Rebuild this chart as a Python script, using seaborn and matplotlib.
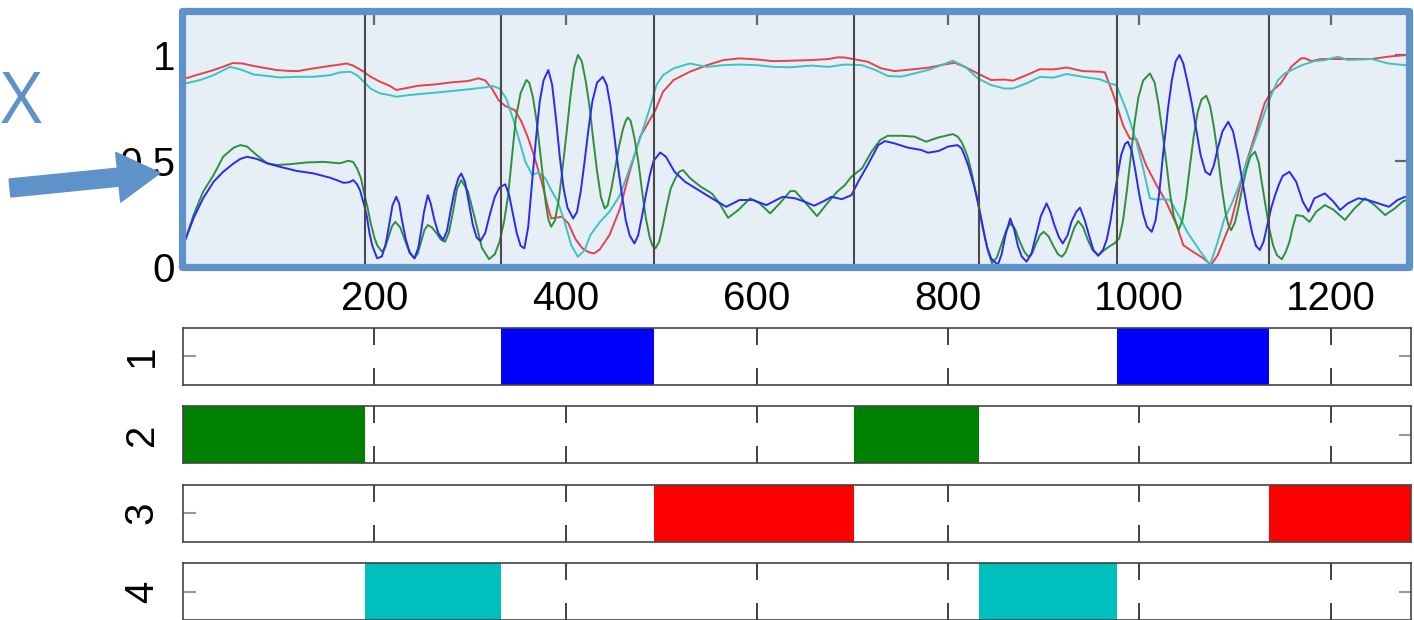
import numpy as np
import pandas as pd
import matplotlib
matplotlib.use("Agg")
import matplotlib.pyplot as plt
from matplotlib.patches import Rectangle, FancyArrow
import seaborn as sns

# ---------------------------------------------------------------- data
# each trace is a list of (position, value) samples
red_pts = [
    (0, 0.885), (10, 0.900), (20, 0.913), (32, 0.929), (42, 0.945), (52, 0.962), (62, 0.960),
    (72, 0.950), (84, 0.940), (98, 0.929), (110, 0.925), (120, 0.924), (130, 0.932), (147, 0.944),
    (164, 0.955), (171, 0.960), (178, 0.950), (189, 0.921), (196, 0.898), (206, 0.874),
    (216, 0.855), (223, 0.835), (236, 0.846), (246, 0.855), (263, 0.861), (281, 0.871),
    (298, 0.877), (309, 0.890), (316, 0.880), (323, 0.842), (330, 0.787), (337, 0.759),
    (347, 0.740), (354, 0.685), (361, 0.607), (368, 0.512), (375, 0.402), (382, 0.276),
    (385, 0.229), (396, 0.237), (403, 0.206), (410, 0.135), (417, 0.091), (424, 0.070),
    (430, 0.064), (436, 0.084), (446, 0.151), (457, 0.276), (467, 0.449), (478, 0.614),
    (488, 0.693), (494, 0.740), (502, 0.827), (513, 0.882), (530, 0.921), (548, 0.952),
    (565, 0.976), (582, 0.984), (600, 0.979), (617, 0.971), (635, 0.973), (657, 0.976),
    (675, 0.981), (685, 0.989), (692, 0.988), (702, 0.980), (716, 0.968), (730, 0.937),
    (744, 0.924), (762, 0.932), (779, 0.940), (797, 0.956), (807, 0.963), (817, 0.945),
    (831, 0.913), (845, 0.882), (859, 0.884), (868, 0.879), (882, 0.905), (896, 0.933),
    (910, 0.932), (924, 0.941), (941, 0.924), (959, 0.921), (964, 0.918), (973, 0.811),
    (983, 0.669), (990, 0.606), (997, 0.603), (1007, 0.481), (1018, 0.386), (1028, 0.308),
    (1039, 0.198), (1046, 0.103), (1056, 0.072), (1067, 0.041), (1075, 0.009), (1082, 0.056),
    (1089, 0.135), (1096, 0.213), (1103, 0.339), (1110, 0.465), (1121, 0.622), (1131, 0.772),
    (1138, 0.827), (1148, 0.866), (1159, 0.945), (1169, 0.984), (1173, 0.985), (1180, 0.971),
    (1190, 0.981), (1208, 0.981), (1225, 0.981), (1243, 0.981), (1260, 0.992), (1278, 1.000),
    (1285, 1.000)]

cyan_pts = [
    (0, 0.862), (3, 0.866), (18, 0.882), (32, 0.905), (49, 0.944), (60, 0.932), (74, 0.908),
    (88, 0.901), (101, 0.894), (119, 0.897), (136, 0.897), (154, 0.905), (164, 0.918),
    (175, 0.921), (182, 0.905), (189, 0.874), (196, 0.842), (206, 0.819), (216, 0.811),
    (223, 0.803), (236, 0.811), (263, 0.822), (281, 0.830), (298, 0.838), (316, 0.847),
    (323, 0.855), (331, 0.842), (338, 0.795), (345, 0.701), (352, 0.591), (358, 0.497),
    (365, 0.434), (372, 0.446), (379, 0.418), (385, 0.363), (392, 0.308), (399, 0.213),
    (406, 0.103), (413, 0.048), (420, 0.080), (426, 0.151), (436, 0.213), (446, 0.261),
    (457, 0.339), (467, 0.465), (478, 0.607), (488, 0.748), (495, 0.858), (502, 0.905),
    (513, 0.937), (530, 0.960), (548, 0.944), (565, 0.952), (582, 0.955), (600, 0.952),
    (617, 0.944), (635, 0.942), (657, 0.950), (675, 0.944), (692, 0.955), (710, 0.952),
    (724, 0.929), (737, 0.901), (751, 0.898), (765, 0.913), (779, 0.929), (793, 0.952),
    (805, 0.973), (818, 0.944), (831, 0.890), (845, 0.858), (859, 0.842), (868, 0.842),
    (882, 0.866), (896, 0.897), (910, 0.893), (924, 0.910), (941, 0.897), (959, 0.885),
    (969, 0.866), (976, 0.858), (987, 0.733), (997, 0.590), (1004, 0.465), (1011, 0.324),
    (1018, 0.318), (1025, 0.320), (1032, 0.316), (1043, 0.229), (1050, 0.166), (1064, 0.072),
    (1074, 0.010), (1082, 0.119), (1089, 0.229), (1096, 0.292), (1103, 0.371), (1114, 0.512),
    (1124, 0.638), (1135, 0.779), (1145, 0.882), (1152, 0.913), (1163, 0.937), (1170, 0.952),
    (1183, 0.971), (1194, 0.976), (1208, 0.992), (1218, 0.976), (1243, 0.981), (1260, 0.960),
    (1278, 0.952), (1285, 0.950)]

green_pts = [
    (0, 0.110), (3, 0.135), (11, 0.245), (21, 0.355), (32, 0.434), (42, 0.520), (53, 0.563),
    (60, 0.575), (67, 0.568), (77, 0.528), (88, 0.489), (98, 0.481), (112, 0.485), (129, 0.493),
    (147, 0.496), (164, 0.489), (173, 0.501), (178, 0.495), (182, 0.465), (186, 0.420),
    (189, 0.355), (193, 0.280), (196, 0.213), (200, 0.140), (203, 0.103), (208, 0.072),
    (211.5, 0.093), (215, 0.142), (218.5, 0.192), (222, 0.213), (227, 0.188), (232, 0.127),
    (237, 0.066), (242, 0.041), (245.5, 0.064), (249, 0.120), (252.5, 0.175), (256, 0.198),
    (260.5, 0.186), (265, 0.160), (269.5, 0.130), (274, 0.119), (278, 0.161), (282.5, 0.265),
    (286.5, 0.368), (291, 0.410), (298, 0.356), (305.5, 0.224), (312.5, 0.091), (320, 0.037),
    (326, 0.060), (331, 0.119), (336, 0.220), (340, 0.339), (344, 0.520), (348, 0.701),
    (353, 0.820), (359, 0.882), (362, 0.870), (366, 0.800), (370, 0.680), (375, 0.480),
    (379, 0.310), (382, 0.225), (385, 0.190), (389, 0.220), (393, 0.320), (397, 0.470),
    (401, 0.630), (405, 0.800), (409, 0.940), (413, 1.000), (417, 0.970), (421, 0.880),
    (425, 0.760), (429, 0.600), (433, 0.450), (437, 0.330), (441, 0.276), (444, 0.290),
    (448, 0.370), (452, 0.470), (456, 0.570), (460, 0.650), (463, 0.690), (465, 0.705),
    (468, 0.690), (472, 0.610), (476, 0.500), (480, 0.360), (484, 0.230), (488, 0.140),
    (491, 0.100), (494, 0.088), (498, 0.120), (502, 0.200), (506, 0.290), (510, 0.370),
    (515, 0.420), (519, 0.450), (523, 0.457), (530, 0.420), (541, 0.380), (553, 0.347),
    (561, 0.300), (570, 0.232), (581, 0.270), (593, 0.324), (603, 0.300), (614, 0.253),
    (624, 0.300), (635, 0.358), (640, 0.358), (650, 0.308), (663, 0.240), (675, 0.308),
    (684, 0.355), (692, 0.386), (699, 0.426), (710, 0.465), (720, 0.544), (729, 0.599),
    (737, 0.619), (751, 0.619), (765, 0.615), (777, 0.591), (789, 0.610), (805, 0.627),
    (810, 0.615), (814, 0.591), (818, 0.550), (821, 0.512), (825, 0.440), (828, 0.371),
    (832, 0.290), (835, 0.213), (839, 0.130), (842, 0.072), (846, 0.017), (851, 0.045),
    (856, 0.110), (861, 0.175), (865, 0.206), (870, 0.180), (875, 0.120), (880, 0.070),
    (884, 0.048), (888, 0.065), (892, 0.110), (896, 0.150), (900, 0.166), (905, 0.145),
    (910, 0.100), (915, 0.060), (919, 0.048), (923, 0.070), (927, 0.120), (932, 0.185),
    (936, 0.217), (941, 0.190), (946, 0.130), (951, 0.080), (957, 0.056), (962, 0.075),
    (968, 0.095), (974, 0.112), (979, 0.135), (983, 0.220), (987, 0.360), (991, 0.520),
    (995, 0.680), (999, 0.800), (1004, 0.880), (1011, 0.913), (1016, 0.870), (1020, 0.770),
    (1024, 0.640), (1028, 0.500), (1032, 0.350), (1036, 0.240), (1041, 0.174), (1045, 0.220),
    (1049, 0.330), (1053, 0.480), (1057, 0.620), (1061, 0.730), (1065, 0.790), (1070, 0.808),
    (1074, 0.760), (1078, 0.660), (1082, 0.530), (1086, 0.380), (1090, 0.260), (1093, 0.200),
    (1096, 0.174), (1100, 0.210), (1104, 0.290), (1108, 0.380), (1112, 0.460), (1116, 0.520),
    (1121, 0.544), (1125, 0.490), (1128, 0.400), (1132, 0.290), (1136, 0.180), (1140, 0.100),
    (1144, 0.055), (1149, 0.037), (1153, 0.070), (1157, 0.119), (1160, 0.180), (1164, 0.245),
    (1171, 0.240), (1178, 0.213), (1185, 0.261), (1194, 0.292), (1203, 0.270), (1215, 0.222),
    (1225, 0.276), (1236, 0.324), (1246, 0.292), (1257, 0.245), (1267, 0.276), (1276, 0.311),
    (1285, 0.320)]

blue_pts = [
    (0, 0.110), (3, 0.135), (11, 0.230), (21, 0.324), (32, 0.402), (42, 0.449), (53, 0.489),
    (60, 0.510), (67, 0.520), (77, 0.510), (88, 0.489), (101, 0.473), (119, 0.453), (136, 0.442),
    (154, 0.421), (168, 0.397), (174, 0.400), (178, 0.410), (182, 0.390), (185, 0.363),
    (189, 0.300), (192, 0.245), (195, 0.160), (198, 0.100), (203, 0.041), (208, 0.050),
    (212, 0.110), (216, 0.210), (219, 0.290), (223, 0.331), (226, 0.300), (229, 0.220),
    (233, 0.130), (237, 0.070), (242, 0.041), (246, 0.090), (249, 0.170), (252, 0.260),
    (256, 0.339), (259, 0.300), (263, 0.220), (267, 0.160), (272, 0.127), (276, 0.170),
    (280, 0.270), (284, 0.360), (288, 0.420), (291, 0.441), (295, 0.400), (299, 0.300),
    (303, 0.200), (307, 0.140), (311, 0.122), (316, 0.160), (321, 0.250), (326, 0.330),
    (331, 0.375), (337, 0.390), (341, 0.340), (345, 0.250), (349, 0.160), (353, 0.100),
    (357, 0.088), (361, 0.190), (365, 0.400), (369, 0.600), (373, 0.780), (377, 0.880),
    (382, 0.929), (386, 0.860), (390, 0.700), (394, 0.520), (398, 0.370), (402, 0.280),
    (408, 0.229), (412, 0.260), (416, 0.360), (420, 0.500), (424, 0.650), (428, 0.780),
    (433, 0.870), (439, 0.897), (443, 0.860), (447, 0.760), (451, 0.620), (455, 0.470),
    (459, 0.340), (463, 0.220), (467, 0.150), (472, 0.111), (476, 0.150), (480, 0.240),
    (484, 0.340), (488, 0.430), (492, 0.500), (499, 0.540), (505, 0.520), (514, 0.449),
    (525, 0.402), (539, 0.363), (553, 0.324), (568, 0.284), (582, 0.316), (596, 0.316),
    (610, 0.292), (627, 0.331), (640, 0.324), (650, 0.308), (660, 0.289), (671, 0.313),
    (678, 0.331), (689, 0.320), (699, 0.339), (706, 0.402), (716, 0.481), (727, 0.575),
    (734, 0.594), (744, 0.583), (758, 0.563), (772, 0.552), (779, 0.539), (790, 0.547),
    (800, 0.568), (810, 0.575), (814, 0.560), (817, 0.528), (821, 0.480), (824, 0.434),
    (828, 0.370), (831, 0.308), (835, 0.220), (838, 0.151), (841, 0.090), (845, 0.041),
    (852, 0.010), (856, 0.060), (860, 0.150), (865, 0.229), (869, 0.180), (873, 0.100),
    (877, 0.050), (882, 0.025), (887, 0.060), (892, 0.150), (897, 0.240), (903, 0.300),
    (907, 0.260), (911, 0.200), (916, 0.140), (920, 0.111), (925, 0.150), (929, 0.213),
    (934, 0.260), (938, 0.280), (943, 0.220), (948, 0.140), (952, 0.080), (957, 0.053),
    (962, 0.080), (966, 0.130), (970, 0.220), (974, 0.339), (978, 0.450), (981, 0.528),
    (985, 0.580), (988, 0.591), (992, 0.550), (996, 0.450), (1000, 0.340), (1004, 0.250),
    (1008, 0.190), (1013, 0.166), (1017, 0.220), (1021, 0.355), (1025, 0.540), (1030, 0.748),
    (1034, 0.880), (1038, 0.970), (1042, 1.000), (1046, 0.960), (1050, 0.880), (1055, 0.770),
    (1059, 0.660), (1064, 0.530), (1069, 0.450), (1074, 0.434), (1078, 0.480), (1082, 0.560),
    (1087, 0.640), (1093, 0.685), (1098, 0.640), (1103, 0.530), (1108, 0.400), (1113, 0.270),
    (1118, 0.160), (1122, 0.100), (1126, 0.080), (1130, 0.120), (1134, 0.200), (1138, 0.280),
    (1142, 0.339), (1146, 0.390), (1150, 0.430), (1157, 0.449), (1164, 0.402), (1171, 0.308),
    (1177, 0.261), (1183, 0.324), (1194, 0.347), (1203, 0.308), (1210, 0.269), (1218, 0.300),
    (1229, 0.324), (1239, 0.316), (1250, 0.300), (1261, 0.284), (1270, 0.316), (1278, 0.331),
    (1285, 0.330)]

series_names = ["red", "cyan", "green", "blue"]
line_colors = ["#E8404C", "#3FC2C2", "#2F8F3A", "#2A2AF2"]

# state segmentation shown in the strips below
seg_edges = [0, 190, 332, 492, 702, 832, 977, 1136, 1285]
seg_state = [2, 4, 1, 3, 2, 4, 1, 3]
state_ids = [1, 2, 3, 4]
state_colors = ["#0000FF", "#008000", "#FF0000", "#00BFBF"]

x_ticks = [200, 400, 600, 800, 1000, 1200]
y_ticks = [0, 0.5, 1]
y_tick_labels = ["0", "0.5", "1"]

# ---------------------------------------------------------------- figure
sns.set_style("white")
plt.rcParams["font.family"] = ["Liberation Sans", "DejaVu Sans"]
plt.rcParams["text.color"] = "black"

W, H = 1414, 620
fig = plt.figure(figsize=(W / 100, H / 100), dpi=100)


def box(left, top, right, bottom):
    return [left / W, 1 - bottom / H, (right - left) / W, (bottom - top) / H]


frame_blue = "#5E92C9"

# traces panel
ax = fig.add_axes(box(182, 11, 1409, 267))
ax.set_facecolor("#E6EEF6")
frames = []
for name, pts in zip(series_names, [red_pts, cyan_pts, green_pts, blue_pts]):
    xs, ys = zip(*pts)
    frames.append(pd.DataFrame({"x": xs, "y": ys, "series": name}))
traces = pd.concat(frames, ignore_index=True)
sns.lineplot(data=traces, x="x", y="y", hue="series", hue_order=series_names,
             palette=dict(zip(series_names, line_colors)), estimator=None,
             linewidth=1.4, legend=False, ax=ax)

for edge in seg_edges[1:-1]:
    ax.axvline(edge, color="#4A4A4A", linewidth=1.5, zorder=3)

ax.set_xlim(-1.05, 1282)
ax.set_ylim(0, 1.2075)
ax.set_xticks(x_ticks)
ax.set_yticks(y_ticks, labels=y_tick_labels)
ax.set_xlabel("")
ax.set_ylabel("")
ax.tick_params(axis="both", direction="in", length=10, width=1.6, color="#666666",
               top=True, right=True, labelsize=29, labelcolor="black")
ax.tick_params(axis="x", pad=9)
ax.tick_params(axis="y", pad=5)
for sp in ax.spines.values():
    sp.set_visible(False)
ax.add_patch(Rectangle((0, 0), 1, 1, transform=ax.transAxes, fill=False,
                       edgecolor=frame_blue, linewidth=5.2, joinstyle="round",
                       clip_on=False, zorder=5))

# state strips
strip_tops = [327.5, 406, 484.5, 563]
for sid, color, top in zip(state_ids, state_colors, strip_tops):
    sax = fig.add_axes(box(183, top, 1411, top + 57))
    for i, st in enumerate(seg_state):
        if st == sid:
            sax.barh(0.5, seg_edges[i + 1] - seg_edges[i], left=seg_edges[i],
                     height=1.0, color=color, edgecolor="none", zorder=1)
    sax.set_xlim(0, 1284)
    sax.set_ylim(0, 1)
    sax.set_xticks(x_ticks, labels=[])
    sax.set_yticks([0.5], labels=[str(sid)])
    sax.tick_params(axis="x", direction="in", length=12, width=1.3, color="#333333",
                    top=True, bottom=True)
    sax.tick_params(axis="y", direction="in", length=9, width=1.5, color="#999999",
                    left=True, right=True, labelsize=29, labelrotation=90, pad=16,
                    labelcolor="black")
    for lab in sax.get_yticklabels():
        lab.set_va("center")
    for sp in sax.spines.values():
        sp.set_color("#444444")
        sp.set_linewidth(1.2)
        sp.set_zorder(3)

# annotation
fig.text(1 / W, 1 - 123 / H, "X", fontsize=51, color=frame_blue,
         family=["Open Sans", "DejaVu Sans"], ha="left", va="baseline")
fig.add_artist(FancyArrow(0.10, 4.32, 1.50, 0.15, width=0.18, head_width=0.50,
                          head_length=0.42, length_includes_head=True,
                          color=frame_blue, transform=fig.dpi_scale_trans, zorder=10))

fig.savefig("out.png", dpi=100)
